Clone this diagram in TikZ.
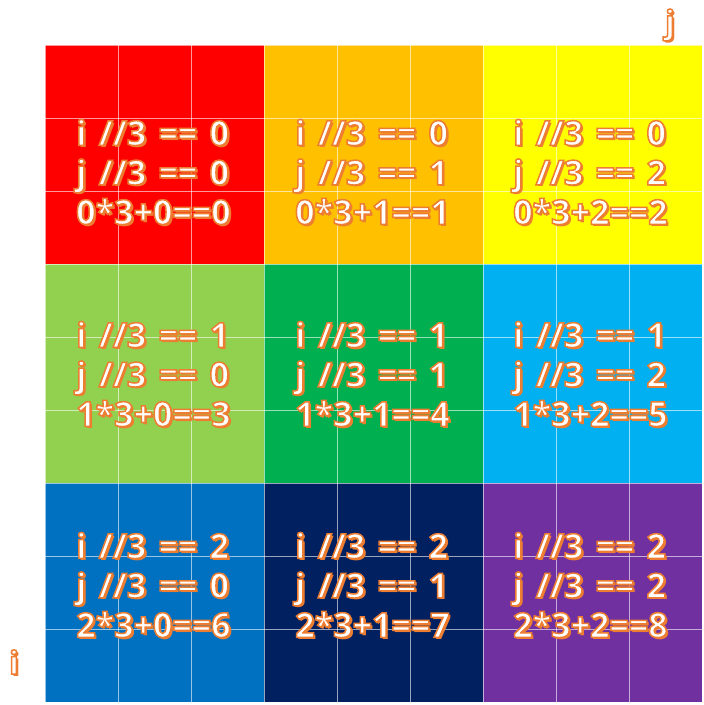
\documentclass[tikz,border=0pt]{standalone}
\usepackage{fontspec}
\setmainfont{Open Sans}
\definecolor{cRed}{HTML}{FF0000}
\definecolor{cOrange}{HTML}{FFC000}
\definecolor{cYellow}{HTML}{FFFF00}
\definecolor{cLime}{HTML}{92D050}
\definecolor{cGreen}{HTML}{00B050}
\definecolor{cSky}{HTML}{00B0F0}
\definecolor{cBlue}{HTML}{0070C0}
\definecolor{cNavy}{HTML}{002060}
\definecolor{cPurple}{HTML}{7030A0}
\definecolor{txtline}{HTML}{ED7D31}
% white text, orange outline and shadow
\newcommand\fxtext[1]{{\spaceskip=0.36em\relax
	\rlap{\kern2pt\raisebox{-2pt}{\textcolor{txtline}{#1}}}%
	\special{pdf:literal direct 2 Tr 1.5 w 0.929 0.49 0.192 RG}#1\special{pdf:literal direct 0 Tr}}}
\newcommand\fxlines[3]{\fxtext{#1}\\\fxtext{#2}\\\fxtext{#3}}

\begin{document}
\begin{tikzpicture}[x=1pt, y=-1pt,
	blk/.style={rectangle, minimum size=219pt, inner sep=0pt, draw=none},
	txt/.style={anchor=west, align=left, inner sep=0pt, text=white, font=\fontsize{34}{39.5}\selectfont\bfseries},
	axis/.style={text=white, inner sep=0pt, font=\fontsize{32}{36}\selectfont\bfseries},
	gridline/.style={white, opacity=0.6, line width=1pt}]
	\useasboundingbox (0,0) rectangle (704,705);
	% blocks
	\node[blk, fill=cRed] (b00) at (154.5,154.5) {};
	\node[blk, fill=cOrange] (b01) at (373.5,154.5) {};
	\node[blk, fill=cYellow] (b02) at (592.5,154.5) {};
	\node[blk, fill=cLime] (b10) at (154.5,373.5) {};
	\node[blk, fill=cGreen] (b11) at (373.5,373.5) {};
	\node[blk, fill=cSky] (b12) at (592.5,373.5) {};
	\node[blk, fill=cBlue] (b20) at (154.5,592.5) {};
	\node[blk, fill=cNavy] (b21) at (373.5,592.5) {};
	\node[blk, fill=cPurple] (b22) at (592.5,592.5) {};
	% cell lines
	\foreach \k in {0,...,9} {
		\draw[gridline] ({45+73*\k},45) -- ({45+73*\k},702);
		\draw[gridline] (45,{45+73*\k}) -- (702,{45+73*\k});
	}
	% texts
	\node[txt] (t00) at (76,173) {\fxlines{i //3 == 0}{j //3 == 0}{0*3+0==0}};
	\node[txt] (t01) at (295,173) {\fxlines{i //3 == 0}{j //3 == 1}{0*3+1==1}};
	\node[txt] (t02) at (513,173) {\fxlines{i //3 == 0}{j //3 == 2}{0*3+2==2}};
	\node[txt] (t10) at (76,375) {\fxlines{i //3 == 1}{j //3 == 0}{1*3+0==3}};
	\node[txt] (t11) at (295,375) {\fxlines{i //3 == 1}{j //3 == 1}{1*3+1==4}};
	\node[txt] (t12) at (513,375) {\fxlines{i //3 == 1}{j //3 == 2}{1*3+2==5}};
	\node[txt] (t20) at (76,586) {\fxlines{i //3 == 2}{j //3 == 0}{2*3+0==6}};
	\node[txt] (t21) at (295,586) {\fxlines{i //3 == 2}{j //3 == 1}{2*3+1==7}};
	\node[txt] (t22) at (513,586) {\fxlines{i //3 == 2}{j //3 == 2}{2*3+2==8}};
	% axis letters
	\node[axis] (jlab) at (670,26) {\fxtext{j}};
	\node[axis] (ilab) at (14,663) {\fxtext{i}};
\end{tikzpicture}
\end{document}
